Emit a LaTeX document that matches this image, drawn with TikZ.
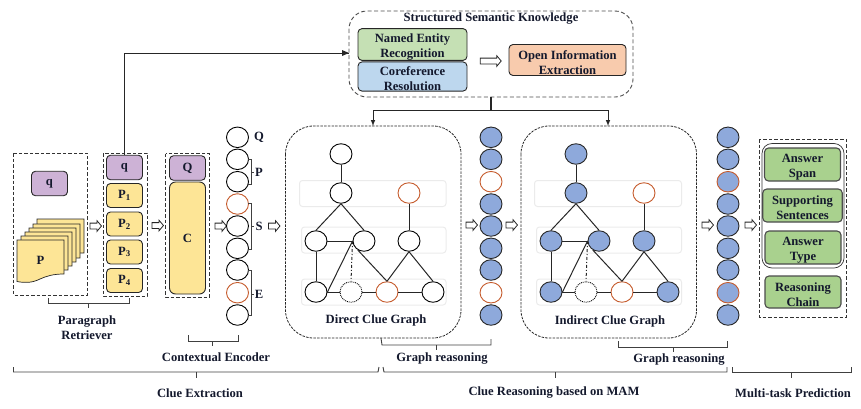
\documentclass[tikz,border=0pt]{standalone}
\usepackage{fontspec}
\setmainfont{Liberation Serif}
\usepackage{xcolor}
\usetikzlibrary{arrows,shapes,positioning}
\definecolor{lilac}{RGB}{205,178,214}
\definecolor{paper}{RGB}{253,229,150}
\definecolor{nerfill}{RGB}{197,224,180}
\definecolor{corefill}{RGB}{189,215,238}
\definecolor{openfill}{RGB}{248,203,173}
\definecolor{taskfill}{RGB}{169,209,142}
\definecolor{nodeblue}{RGB}{142,169,219}
\definecolor{rimorange}{RGB}{197,90,43}
\definecolor{bandgray}{RGB}{235,235,235}
\definecolor{labelink}{RGB}{20,25,45}
\newcommand{\upgap}{\rule{0pt}{14pt}}
\tikzset{
    lbl/.style={font=\fontsize{12.6}{15}\selectfont\bfseries, text=labelink, align=center, inner sep=0pt},
    dashbox/.style={draw=black!80, dash pattern=on 3.5pt off 2pt, line width=0.9pt},
    softbox/.style={draw=black!70, dash pattern=on 4pt off 2.5pt, line width=0.9pt, rounded corners=18pt},
    graphbox/.style={draw=black!85, dash pattern=on 2.5pt off 1.2pt, line width=0.8pt, rounded corners=28pt},
    band/.style={draw=bandgray, line width=1pt, rounded corners=3pt},
    block/.style={draw=black!85, line width=0.9pt, rounded corners=4pt, inner sep=0pt, align=center,
        font=\fontsize{12.6}{15}\selectfont\bfseries, text=labelink},
    pblock/.style={block, fill=paper, minimum width=36pt, minimum height=24pt},
    qblock/.style={block, fill=lilac, minimum width=36pt, minimum height=24.5pt},
    taskblock/.style={block, fill=taskfill, draw=black!70, line width=1.1pt, minimum width=76pt, minimum height=33pt},
    cnode/.style={ellipse, draw=black, line width=0.9pt, fill=white, minimum width=22pt, minimum height=20.5pt, inner sep=0pt},
    rnode/.style={cnode, draw=rimorange},
    bnode/.style={cnode, fill=nodeblue, draw=black!85},
    brnode/.style={cnode, fill=nodeblue, draw=rimorange},
    dnode/.style={cnode, densely dotted},
    gedge/.style={draw=black!85, line width=1pt},
    hollow/.style={single arrow, draw=black!85, fill=white, line width=0.8pt, minimum height=11.5pt,
        minimum width=10.5pt, single arrow head extend=2.5pt, single arrow tip angle=100, inner sep=2.5pt},
    bracket/.style={draw=black!75, line width=0.9pt},
    papersheet/.pic={
        \draw[draw=black!85, fill=paper, line width=0.7pt] (0,0) -- (47,0) -- (47,34)
            .. controls (36,34) and (30,36) .. (23,39) .. controls (15,43) and (8,43) .. (0,41.5) -- cycle;
    },
}
\begin{document}
\begin{tikzpicture}[x=1pt, y=-1pt]
	\useasboundingbox (0,0) rectangle (861,408);
	% knowledge box
	\draw[softbox] (349,11) rectangle (633,97);
	\node[lbl] (sk) at (491,19) {Structured Semantic Knowledge};
	\node[block, fill=nerfill, minimum width=109pt, minimum height=29pt] (ner) at (412.5,44.5) {\upgap Named Entity\\Recognition};
	\node[block, fill=corefill, minimum width=109pt, minimum height=29pt] (coref) at (412.5,76.5) {\upgap Coreference\\Resolution};
	\node[block, fill=openfill, minimum width=117pt, minimum height=31pt] (open) at (567.5,60) {\upgap Open Information\\Extraction};
	\node[hollow, minimum height=21pt] (topflow) at (489.5,61) {};
	\coordinate (skin) at (349,53);
	\coordinate (skout) at (491,97);
	\coordinate (skfork) at (491,110);
	\coordinate (forka) at (373,110);
	\coordinate (forkb) at (608,110);
	\coordinate (dgin) at (373,126);
	\coordinate (igin) at (608,126);
	% retriever
	\draw[dashbox] (13.5,153) rectangle (87.5,295);
	\node[qblock] (q0) at (49.5,183.5) {q};
	\pic at (37,219) {papersheet};
	\pic at (33,224) {papersheet};
	\pic at (29,228) {papersheet};
	\pic at (25,232) {papersheet};
	\pic at (21,236) {papersheet};
	\pic at (17,240) {papersheet};
	\node[lbl] (p0) at (40.5,260) {P};
	\node[hollow] (flowa) at (94.5,226) {};
	\draw[dashbox] (103,153) rectangle (147,296);
	\node[qblock] (q1) at (124.5,167.5) {q};
	\node[pblock] (p1) at (124.5,195.5) {P\textsubscript{1}};
	\node[pblock] (p2) at (124.5,224) {P\textsubscript{2}};
	\node[pblock] (p3) at (124.5,252) {P\textsubscript{3}};
	\node[pblock] (p4) at (124.5,280.5) {P\textsubscript{4}};
	\coordinate (qturn) at (124.5,53);
	\draw[gedge] (q1.north) -- (qturn) -- (skin);
	\fill[black!85] (skin) -- ++(-7,-3) -- ++(0,6) -- cycle;
	\draw[gedge, line width=1.1pt] (skout) -- (skfork);
	\draw[gedge, -latex] (forka) -- (dgin);
	\draw[gedge, -latex] (forkb) -- (igin);
	\draw[gedge] (forka) -- (forkb);
	\node[hollow] (flowb) at (156.5,225.5) {};
	% encoder
	\draw[dashbox] (165.5,153.5) rectangle (209.5,297);
	\node[qblock] (qq) at (187.5,168) {Q};
	\node[block, fill=paper, minimum width=36pt, minimum height=112pt, rounded corners=6pt] (cc) at (187.5,238) {C};
	\node[hollow] (flowc) at (219.5,226) {};
	\node[cnode] (ea) at (237.5,137.3) {};
	\node[cnode] (eb) at (237.5,159.3) {};
	\node[cnode] (ec) at (237.5,181.7) {};
	\node[rnode] (ed) at (237.5,204) {};
	\node[cnode] (ee) at (237.5,226) {};
	\node[cnode] (ef) at (237.5,248.3) {};
	\node[cnode] (eg) at (237.5,270) {};
	\node[rnode] (eh) at (237.5,292.7) {};
	\node[cnode] (ei) at (237.5,315) {};
	\node[lbl] (lq) at (259,137) {Q};
	\node[lbl] (lp) at (259,172) {P};
	\node[lbl] (ls) at (259,226) {S};
	\node[lbl] (le) at (259,294) {E};
	\draw[bracket] (248,159.5) -- (251,159.5) -- (251,184) -- (248,184);
	\draw[bracket] (251,172) -- (253.5,172);
	\draw[bracket] (248,203) -- (251,203) -- (251,249) -- (248,249);
	\draw[bracket] (251,226) -- (253.5,226);
	\draw[bracket] (248,270) -- (251,270) -- (251,315) -- (248,315);
	\draw[bracket] (251,294) -- (253.5,294);
	\node[hollow] (flowd) at (273,226) {};
	% direct graph
	\draw[graphbox] (285.5,126) rectangle (461,338);
	\draw[band] (299.5,180.5) rectangle (446,206.5);
	\draw[band] (301.5,227) rectangle (446,253);
	\draw[band] (301.5,279) rectangle (446,305);
	\node[cnode] (da) at (341,154) {};
	\node[cnode] (db) at (341,193) {};
	\node[rnode] (dc) at (409,193) {};
	\node[cnode] (dd) at (316,241) {};
	\node[cnode] (de) at (364,241) {};
	\node[cnode] (df) at (409,241) {};
	\node[cnode] (dg) at (316,292) {};
	\node[dnode] (dh) at (351,292) {};
	\node[rnode] (di) at (387,292) {};
	\node[cnode] (dj) at (433,292) {};
	\draw[gedge] (da) -- (db);
	\draw[gedge] (db.south) -- (dd.north);
	\draw[gedge] (db.south) -- (de.north);
	\draw[gedge] (dc) -- (df);
	\draw[gedge] (dd) -- (de);
	\draw[gedge] (dd) -- (dg);
	\draw[gedge] (de.west) -- (dg.east);
	\draw[gedge, dash dot] (de.west) -- (dh.north);
	\draw[gedge] (de.-125) -- (di.north);
	\draw[gedge] (df.south) -- (di.north);
	\draw[gedge] (df.south) -- (dj.north);
	\draw[gedge] (dg) -- (dh);
	\draw[gedge] (dh) -- (di);
	\draw[gedge] (di) -- (dj);
	\node[lbl] (dlabel) at (376,320) {Direct Clue Graph};
	\node[hollow] (flowe) at (470.5,225) {};
	\node[bnode] (ra) at (491,137.3) {};
	\node[bnode] (rb) at (491,159.3) {};
	\node[rnode] (rc) at (491,181.7) {};
	\node[bnode] (rd) at (491,204) {};
	\node[bnode] (re) at (491,226) {};
	\node[bnode] (rf) at (491,248.3) {};
	\node[bnode] (rg) at (491,270) {};
	\node[rnode] (rh) at (491,292.7) {};
	\node[bnode] (ri) at (491,315) {};
	\node[hollow] (flowf) at (510.5,225) {};
	% indirect graph
	\draw[graphbox] (521,126) rectangle (696.5,338);
	\draw[band] (534.5,180.5) rectangle (681.5,206.5);
	\draw[band] (536.5,227) rectangle (681.5,253);
	\draw[band] (536.5,279) rectangle (681.5,305);
	\node[bnode] (ia) at (576,154) {};
	\node[bnode] (ib) at (576,193) {};
	\node[rnode] (ic) at (644,193) {};
	\node[bnode] (id) at (551,241) {};
	\node[bnode] (ie) at (599,241) {};
	\node[bnode] (if) at (644,241) {};
	\node[bnode] (ig) at (551,292) {};
	\node[dnode] (ih) at (586,292) {};
	\node[rnode] (ii) at (622,292) {};
	\node[bnode] (ij) at (668,292) {};
	\draw[gedge] (ia) -- (ib);
	\draw[gedge] (ib.south) -- (id.north);
	\draw[gedge] (ib.south) -- (ie.north);
	\draw[gedge] (ic) -- (if);
	\draw[gedge] (id) -- (ie);
	\draw[gedge] (id) -- (ig);
	\draw[gedge] (ie.west) -- (ig.east);
	\draw[gedge, dash dot] (ie.west) -- (ih.north);
	\draw[gedge] (ie.-125) -- (ii.north);
	\draw[gedge] (if.south) -- (ii.north);
	\draw[gedge] (if.south) -- (ij.north);
	\draw[gedge] (ig) -- (ih);
	\draw[gedge] (ih) -- (ii);
	\draw[gedge] (ii) -- (ij);
	\node[lbl] (ilabel) at (610,321) {Indirect Clue Graph};
	\node[hollow] (flowg) at (706.5,225) {};
	\node[bnode] (sa) at (728,137.3) {};
	\node[bnode] (sb) at (728,159.3) {};
	\node[brnode] (sc) at (728,181.7) {};
	\node[bnode] (sd) at (728,204) {};
	\node[bnode] (se) at (728,226) {};
	\node[bnode] (sf) at (728,248.3) {};
	\node[bnode] (sg) at (728,270) {};
	\node[brnode] (sh) at (728,292.7) {};
	\node[bnode] (si) at (728,315) {};
	\node[hollow] (flowh) at (749.5,225) {};
	% prediction
	\draw[dashbox] (759,139) rectangle (846,317);
	\draw[draw=black!80, line width=0.7pt, rounded corners=10pt] (762,143.5) rectangle (844,268);
	\node[taskblock] (span) at (802.5,164.5) {\upgap Answer\\Span};
	\node[taskblock, minimum width=79.5pt] (supp) at (802.5,205.5) {\upgap Supporting\\Sentences};
	\node[taskblock] (type) at (803,247.5) {\upgap Answer\\Type};
	\node[taskblock, minimum height=32pt] (chain) at (803,292) {\upgap Reasoning\\Chain};
	% brackets
	\draw[bracket] (48,298) -- (48,303) -- (129,303) -- (129,298);
	\draw[bracket] (88,303) -- (88,308);
	\node[lbl] (lret) at (87,327.5) {Paragraph\\Retriever};
	\draw[bracket] (188,335) -- (188,341) -- (238,341) -- (238,335);
	\draw[bracket] (212,341) -- (212,346);
	\node[lbl] (lenc) at (216,357) {Contextual Encoder};
	\draw[bracket] (381,338) -- (382,345) -- (491,345) -- (491,339);
	\draw[bracket] (436,345) -- (436,350);
	\node[lbl] (lga) at (442,359) {Graph reasoning};
	\draw[bracket] (618,341) -- (618,347) -- (727,347) -- (727,341);
	\draw[bracket] (673,347) -- (673,352);
	\node[lbl] (lgb) at (679,360) {Graph reasoning};
	\draw[bracket] (13.5,367) -- (13.5,372) -- (378,372) -- (379,367);
	\draw[bracket] (196,372) -- (196,378);
	\node[lbl] (lce) at (200,393) {Clue Extraction};
	\draw[bracket] (383,367) -- (384,372) -- (727,372) -- (727,367);
	\draw[bracket] (555,372) -- (555,378);
	\node[lbl] (lcr) at (554,393) {Clue Reasoning based on MAM};
	\draw[bracket] (732,367) -- (732,372) -- (851,372) -- (851,367);
	\draw[bracket] (791,372) -- (791,378);
	\node[lbl] (lmt) at (793,393) {Multi-task Prediction};
\end{tikzpicture}
\end{document}
